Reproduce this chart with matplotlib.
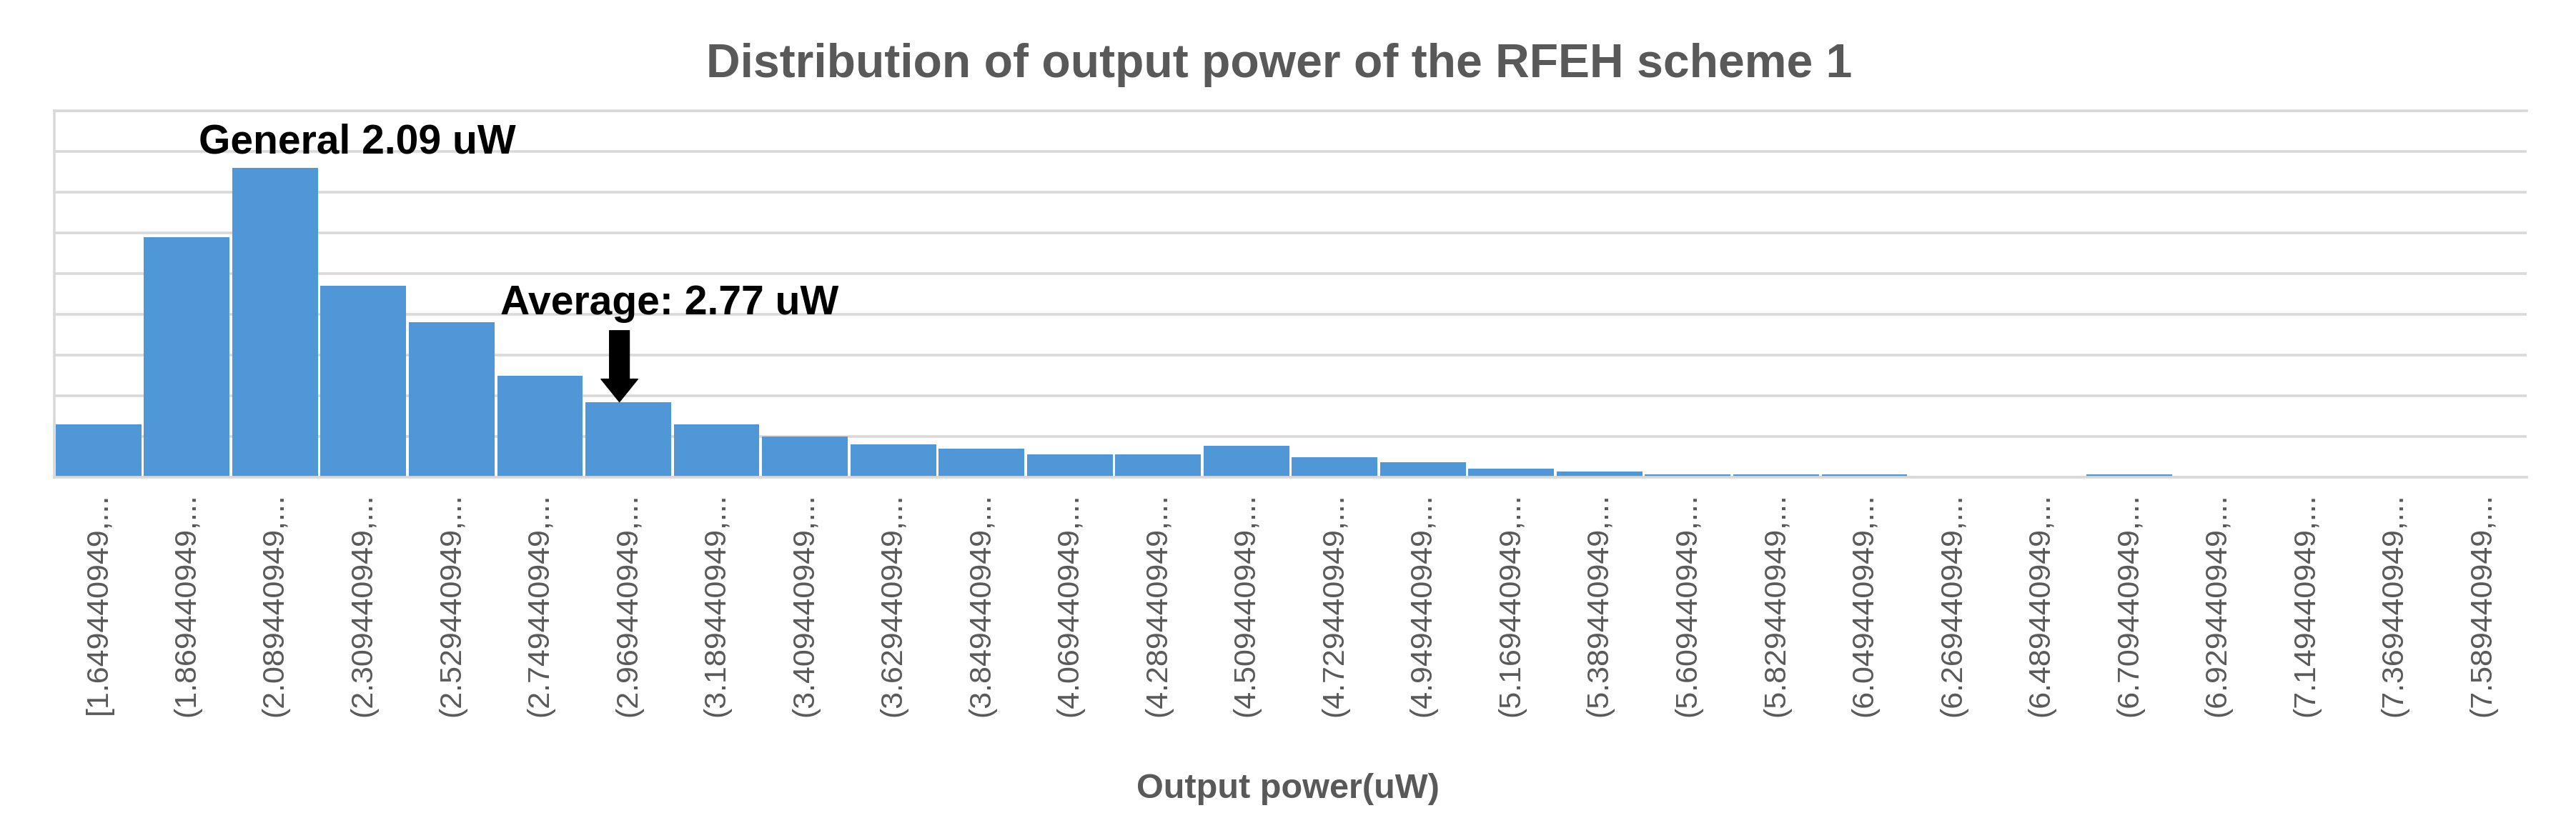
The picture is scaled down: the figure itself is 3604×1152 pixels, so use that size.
import matplotlib
matplotlib.use("Agg")
import matplotlib.pyplot as plt

plt.rcParams['font.family'] = ['Liberation Sans', 'DejaVu Sans']

# ---- data ----
bin_labels = [
    "[1.649440949,...", "(1.869440949,...", "(2.089440949,...", "(2.309440949,...",
    "(2.529440949,...", "(2.749440949,...", "(2.969440949,...", "(3.189440949,...",
    "(3.409440949,...", "(3.629440949,...", "(3.849440949,...", "(4.069440949,...",
    "(4.289440949,...", "(4.509440949,...", "(4.729440949,...", "(4.949440949,...",
    "(5.169440949,...", "(5.389440949,...", "(5.609440949,...", "(5.829440949,...",
    "(6.049440949,...", "(6.269440949,...", "(6.489440949,...", "(6.709440949,...",
    "(6.929440949,...", "(7.149440949,...", "(7.369440949,...", "(7.589440949,...",
]
counts = [13, 59, 76, 47, 38, 25, 18.5, 13, 10, 8,
          7, 5.7, 5.7, 7.8, 5.0, 3.6, 2.1, 1.4, 0.7, 0.7,
          0.7, 0, 0, 0.7, 0, 0, 0, 0]
title = "Distribution of output power of the RFEH scheme 1"
xlabel = "Output power(uW)"
general_text = "General 2.09 uW"
average_text = "Average: 2.77 uW"
average_bin = 6

BAR = '#4f97d7'
GRID = '#d9d9d9'
TXT = '#595959'

W, H = 3605, 1152
fig = plt.figure(figsize=(W / 100, H / 100), dpi=100)
fig.patch.set_facecolor('white')

L, R, T, B = 76, 3535, 155, 668
ax = fig.add_axes([L / W, 1 - B / H, (R - L) / W, (B - T) / H])

x = list(range(len(counts)))
ax.bar(x, counts, width=0.97, color=BAR, edgecolor='none', zorder=3)

ax.set_xlim(-0.5, len(counts) - 0.5)
ax.set_ylim(0, 90)
ax.set_yticks(range(0, 91, 10))
ax.yaxis.grid(True, color=GRID, linewidth=2.6, zorder=0)
ax.set_axisbelow(True)
ax.tick_params(axis='y', left=False, labelleft=False)

ax.set_xticks(x)
ax.set_xticklabels(bin_labels, rotation=90, fontsize=31, color=TXT,
                   va='top', ha='center')
ax.tick_params(axis='x', length=0, pad=16)

for side in ['right']:
    ax.spines[side].set_visible(False)
for side in ['left', 'top', 'bottom']:
    ax.spines[side].set_color(GRID)
    ax.spines[side].set_linewidth(2.6)
ax.spines['bottom'].set_zorder(4)

# title and axis label
fig.text(1790 / W, 1 - 108 / H, title, ha='center', va='baseline',
         fontsize=47.5, fontweight='bold', color=TXT)
fig.text(1802 / W, 1 - 1117 / H, xlabel, ha='center', va='baseline',
         fontsize=35, fontweight='bold', color=TXT)

# annotations
ax.text(1.136, 79.5, general_text, ha='left', va='baseline',
        fontsize=41, fontweight='bold', color='black', zorder=5)
ax.text(4.55, 40.0, average_text, ha='left', va='baseline',
        fontsize=41, fontweight='bold', color='black', zorder=5)
ax.annotate('', xy=(average_bin - 0.1, counts[average_bin]),
            xytext=(average_bin - 0.1, counts[average_bin] + 17.5),
            arrowprops=dict(facecolor='black', edgecolor='black',
                            width=20, headwidth=37, headlength=23, shrink=0),
            zorder=5)

fig.savefig('out.png', dpi=100, facecolor='white')
